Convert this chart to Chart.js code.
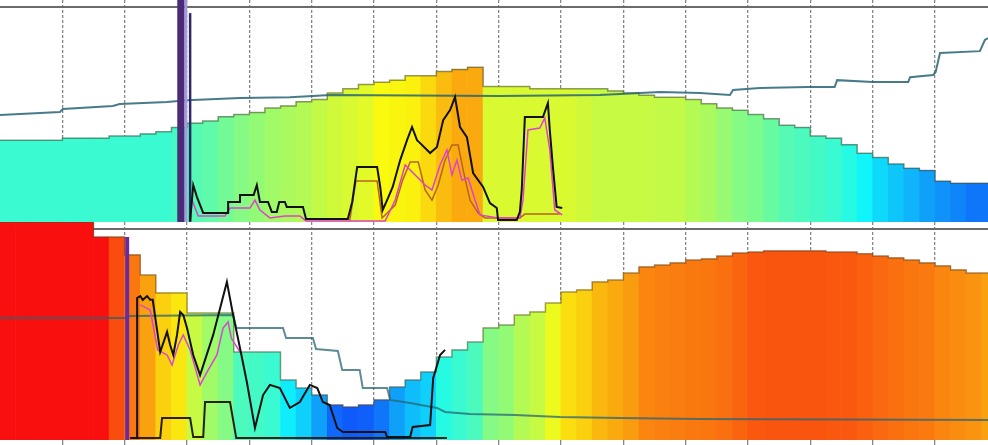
<!DOCTYPE html>
<html>
<head>
<meta charset="utf-8">
<script src="https://cdn.jsdelivr.net/npm/chart.js@4.4.1/dist/chart.umd.min.js"></script>
<style>
body { margin: 0; background: #fff; }
canvas { display: block; }
</style>
</head>
<body>
<canvas id="topChart" width="988" height="222"></canvas>
<canvas id="bottomChart" width="988" height="223"></canvas>
<script>
// bins are a quarter hour wide, x axis in hours
const BIN = 0.25;

// ---- upper panel ----
const topBars = [38,38,38,38,39,39,39,40,40,41, 42,44,46,47,49,50,51,53,54,56,
                 57,60,62,64,65,66,68,68,70,71, 72,63,63,63,62,62,62,62,62,61,
                 60,59,58,58,57,55,53,52,50,48, 45,44,40,39,36,32,30,27,25,24,
                 19,18,18,18];
const topLevel = [0.42,0.42,0.42,0.42,0.42,0.42,0.42,0.42,0.42,0.42,0.42,
                  0.43,0.45,0.46,0.48,0.50,0.515,0.53,0.54,0.55,
                  0.565,0.58,0.59,0.60,0.625,0.63,0.635,0.66,0.69,0.71,
                  0.71,0.59,0.59,0.59,0.59,0.59,0.59,0.58,0.57,0.57,
                  0.57,0.57,0.565,0.565,0.55,0.54,0.52,0.50,0.49,0.47,
                  0.45,0.44,0.43,0.42,0.40,0.37,0.34,0.32,0.30,0.28,
                  0.265,0.25,0.235,0.235];

const topTealX = [0,0.96,1.01,1.81,1.92,2.68,3.00,3.85,4.65,5.02,5.29,8.02,9.62,10.59,11.23,11.71,11.76,12.19,12.95,13.39,13.43,14.0,14.57,14.6,14.97,15.01,15.08,15.72,15.80,15.85];
const topTealY = [49.8,51.2,52.6,54.0,54.9,55.8,56.7,57.7,58.1,58.6,59.1,58.6,59.1,60.5,60.0,59.1,61.4,62.3,62.8,62.8,66.0,65.1,65.1,67.4,68.4,69.8,78.6,79.5,84.7,85.6];

const topBlackX = [3.05,3.10,3.16,3.26,3.66,3.66,3.85,3.85,4.07,4.12,4.17,4.30,4.36,4.44,4.48,4.57,4.60,4.86,4.91,5.58,5.65,5.73,6.05,6.10,6.14,6.21,6.30,6.42,6.53,6.61,6.69,6.74,6.90,7.01,7.11,7.22,7.30,7.38,7.49,7.59,7.75,7.86,7.97,7.99,8.29,8.34,8.37,8.42,8.71,8.79,8.82,8.87,8.93,9.02];
const topBlackY = [0.5,17.2,11.6,4.2,4.2,9.3,9.3,12.6,12.6,17.2,9.3,9.3,4.7,4.7,9.3,9.3,7.0,7.0,1.4,1.4,9.3,25.6,25.6,16.3,5.6,10.2,16.3,28.8,38.1,44.2,38.1,36.7,32.1,34.9,47.4,52.1,58.1,44.2,39.5,22.8,16.3,8.8,6.5,0.9,0.9,4.7,14.9,48.8,48.8,55.3,42.8,25.6,7.0,6.5];

const topPinkX = [3.08,3.18,3.61,3.69,4.01,4.09,4.17,4.33,4.57,4.81,4.91,6.18,6.34,6.50,6.66,6.82,6.93,7.06,7.17,7.25,7.33,7.41,7.51,7.62,7.70,7.99,8.34,8.39,8.47,8.66,8.74,8.82,8.90,9.02];
const topPinkY = [10.2,2.8,2.8,6.5,6.5,10.2,5.6,1.9,2.8,2.8,0.5,0.5,10.2,26.5,21.9,17.2,14.9,26.5,33.5,21.9,28.8,19.5,20.5,10.2,3.3,1.9,1.9,10.2,42.8,43.7,48.4,33.5,5.6,3.3];

const topBrownX = [5.61,5.71,6.05,6.13,6.34,6.46,6.58,6.71,6.82,6.93,7.03,7.14,7.25,7.35,7.43,7.54,7.67,7.78,8.34,8.42,8.98];
const topBrownY = [0.5,19.1,19.1,1.9,7.9,19.5,27.9,27.9,14.9,10.2,17.2,28.8,35.8,35.8,24.2,10.2,4.2,1.9,1.9,3.7,3.7];

// marker bars in the upper panel: [x, top]
const topMarkers = [[2.90, 103.3], [2.98, 103.3], [3.05, 97.2]];

// ---- lower panel ----
const bottomBars = [103.3,103.3,103.3,103.3,103.3,103.3,96.2,96.2,87.7,78.2,
                    69.7,69.7,60.2,60.2,60.2,41.7,41.7,41.7,28.4,24.6,
                    21.3,16.6,15.6,16.6,19.0,25.1,28.4,32.2,39.3,42.7,
                    46.4,53.1,54.5,59.2,60.7,64.9,70.1,71.1,74.9,75.8,
                    79.1,82.0,82.9,83.9,85.3,85.8,87.2,88.6,89.1,89.6,
                    89.6,89.6,89.6,89.1,89.1,88.2,87.2,86.3,85.3,83.9,
                    82.5,80.6,79.1,79.1];
const bottomLevel = [0.875,0.875,0.875,0.875,0.875,0.875,0.875,0.81,0.765,0.72,
                     0.67,0.645,0.57,0.53,0.50,0.44,0.43,0.42,0.36,0.33,
                     0.28,0.22,0.205,0.21,0.235,0.28,0.31,0.33,0.40,0.42,
                     0.44,0.50,0.515,0.55,0.57,0.61,0.655,0.67,0.695,0.71,
                     0.725,0.75,0.755,0.757,0.762,0.765,0.773,0.785,0.797,0.80,
                     0.80,0.80,0.80,0.797,0.797,0.789,0.78,0.773,0.765,0.761,
                     0.75,0.742,0.735,0.72];

const bottomTealX = [0,2.01,2.09,3.74,3.79,4.54,4.59,5.02,5.07,5.42,5.49,5.77,5.82,6.21,6.26,6.58,7.01,7.14,7.54,8.26,8.98,9.95,11.23,15.85];
const bottomTealY = [57.8,57.8,58.8,59.2,53.1,53.1,48.3,48.3,43.1,42.2,33.2,33.2,24.6,24.6,19.0,17.5,15.2,13.3,12.3,11.8,10.9,10.4,9.95,9.5];

const bottomBlackX = [2.09,2.20,2.20,2.25,2.29,2.36,2.41,2.45,2.52,2.57,2.68,2.73,2.78,2.84,2.89,2.94,3.00,3.10,3.21,3.42,3.64,3.74,3.85,3.96,4.09,4.22,4.33,4.49,4.65,4.81,4.97,5.09,5.18,5.29,5.41,5.50,6.18,6.21,6.58,6.62,6.90,6.95,7.06,7.14];
const bottomBlackY = [0.9,0.9,67.3,68.2,66.4,68.2,66.4,66.4,52.1,41.7,51.2,45.0,40.3,49.8,60.7,59.2,53.1,40.3,30.8,49.8,74.9,59.2,43.6,27.5,5.7,21.3,26.1,24.6,15.2,18.0,26.1,24.6,18.0,16.6,5.7,3.8,3.8,1.4,1.4,6.2,7.1,29.4,40.3,42.7];

const bottomBaseX = [2.09,2.57,2.60,3.05,3.10,3.26,3.29,3.69,3.79,7.17];
const bottomBaseY = [0.9,0.9,10.4,10.4,1.4,1.4,18.0,18.0,0.9,0.9];

const bottomPinkX = [2.25,2.41,2.53,2.68,2.76,2.86,2.94,3.05,3.21,3.32,3.48,3.58,3.66,3.71,3.85];
const bottomPinkY = [64.0,61.6,42.7,40.3,35.5,45.0,49.8,42.7,26.1,32.2,40.3,53.1,55.9,48.3,41.7];

const bottomMarkers = [[2.04, 96.2]];

// jet colour map
function jet(t) {
    const c = v => Math.max(0, Math.min(1, v));
    const r = c(1.5 - Math.abs(4 * t - 3));
    const g = c(1.5 - Math.abs(4 * t - 2));
    const b = c(1.5 - Math.abs(4 * t - 1));
    return 'rgb(' + Math.round(15 + 235 * r) + ',' + Math.round(15 + 235 * g) + ',' + Math.round(15 + 235 * b) + ')';
}

function pts(xs, ys) {
    return xs.map((x, i) => ({x: x, y: ys[i]}));
}

function line(xs, ys, color, width, order) {
    return {
        type: 'line',
        data: pts(xs, ys),
        borderColor: color,
        borderWidth: width,
        pointRadius: 0,
        fill: false,
        tension: 0,
        order: order
    };
}

function barsAndOutline(values, levels, outlineColor) {
    let steps = values.map((v, i) => ({x: i * BIN, y: v}));
    steps.push({x: values.length * BIN, y: values[values.length - 1]});
    return [
        {
            type: 'bar',
            data: values.map((v, i) => ({x: (i + 0.5) * BIN, y: v})),
            backgroundColor: levels.map(jet),
            borderWidth: 0,
            barPercentage: 1,
            categoryPercentage: 1,
            order: 10
        },
        {
            // value i holds from bin edge i to edge i+1
            type: 'line',
            data: steps,
            stepped: 'before',
            borderColor: outlineColor,
            borderWidth: 1.5,
            pointRadius: 0,
            fill: false,
            order: 9
        }
    ];
}

function marker(m, color, width) {
    return line([m[0], m[0]], [0, m[1]], color, width, 4);
}

function makeOptions(tickLen) {
    return {
        responsive: false,
        animation: false,
        devicePixelRatio: 1,
        events: [],
        plugins: { legend: { display: false }, tooltip: { enabled: false } },
        scales: {
            x: {
                type: 'linear', min: 0, max: 15.85, offset: false,
                ticks: { display: false, stepSize: 1, includeBounds: false },
                grid: {
                    offset: false,
                    color: ctx => (ctx.tick && ctx.tick.value === 0) ? 'rgba(0,0,0,0)' : 'rgba(95,95,95,0.75)',
                    lineWidth: 1.3,
                    drawTicks: tickLen > 0,
                    tickLength: tickLen
                },
                border: { display: false, dash: [3, 2] }
            },
            y: {
                type: 'linear', min: 0, max: 103.3,
                ticks: { display: false },
                grid: { color: '#6b6b6b', lineWidth: 2, drawTicks: false },
                border: { display: false },
                afterBuildTicks: axis => { axis.ticks = [{value: 100}]; }
            }
        }
    };
}

let topDatasets = barsAndOutline(topBars, topLevel, 'rgba(70,75,50,0.55)').concat([
    line(topTealX, topTealY, 'rgba(40,100,118,0.85)', 2, 5),
    marker(topMarkers[0], '#4b2a78', 7),
    marker(topMarkers[1], '#a898e0', 3),
    marker(topMarkers[2], '#2a2a6a', 2.5),
    line(topBrownX, topBrownY, '#b8641c', 1.5, 3),
    line(topPinkX, topPinkY, '#e040d0', 1.5, 2),
    line(topBlackX, topBlackY, '#111111', 2, 1)
]);

let topChart = new Chart(document.getElementById('topChart'), {
    type: 'bar',
    data: { datasets: topDatasets },
    options: makeOptions(0)
});

let bottomDatasets = barsAndOutline(bottomBars, bottomLevel, 'rgba(90,70,40,0.5)').concat([
    line(bottomTealX, bottomTealY, 'rgba(40,100,118,0.75)', 2, 5),
    marker(bottomMarkers[0], '#6a2aa0', 4),
    line(bottomBaseX, bottomBaseY, '#2a2010', 2, 3),
    line(bottomPinkX, bottomPinkY, '#d848d0', 1.5, 2),
    line(bottomBlackX, bottomBlackY, '#111111', 2, 1)
]);

let bottomChart = new Chart(document.getElementById('bottomChart'), {
    type: 'bar',
    data: { datasets: bottomDatasets },
    options: makeOptions(5)
});
</script>
</body>
</html>
